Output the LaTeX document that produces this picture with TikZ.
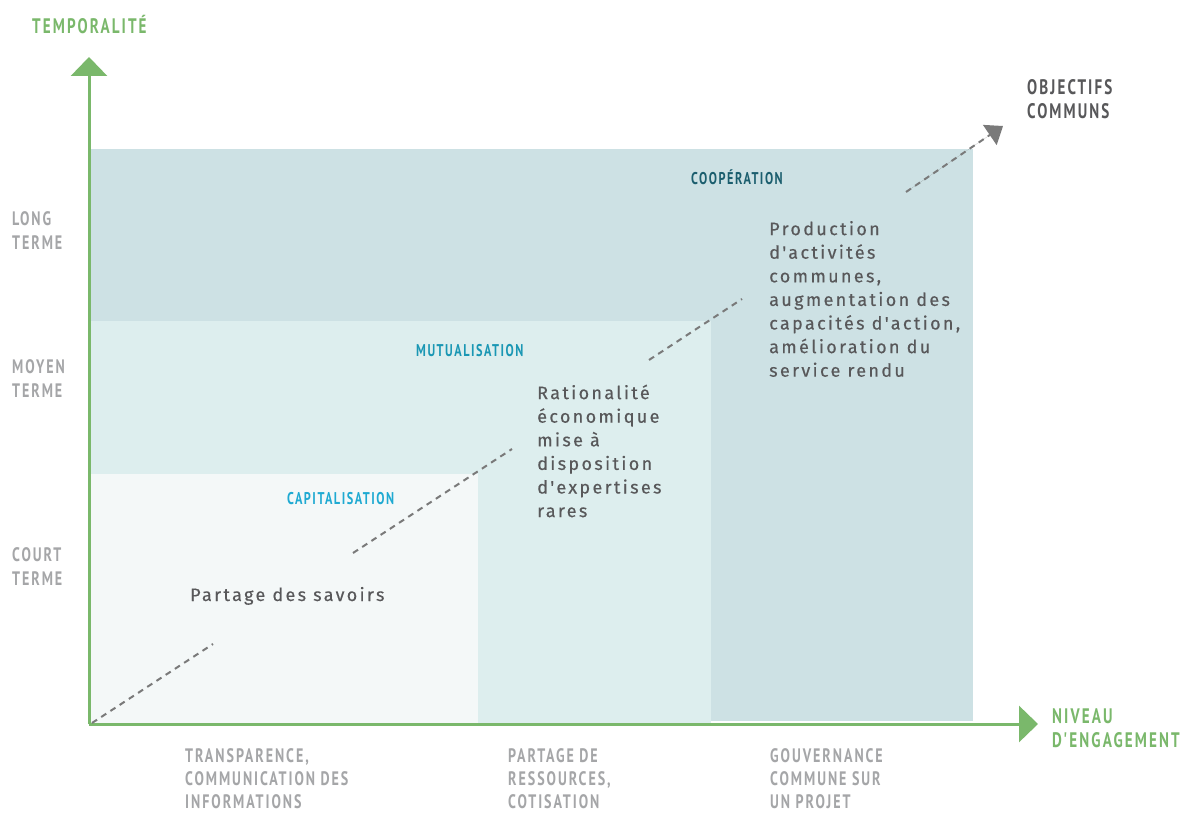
\documentclass[tikz,border=0pt]{standalone}
\usepackage{fontspec}
\usetikzlibrary{arrows.meta}
\newfontfamily\capsfont[FakeStretch=0.72,LetterSpace=10]{PT Sans}
\newfontfamily\smallcapsfont[FakeStretch=0.72,LetterSpace=9]{PT Sans}
\newfontfamily\bodyfont[LetterSpace=13,FakeBold=0.4]{Fira Sans}
\definecolor{axisgreen}{HTML}{7AB86B}
\definecolor{darkzone}{HTML}{CDE1E4}
\definecolor{midzone}{HTML}{DDEEEE}
\definecolor{lightzone}{HTML}{F4F8F8}
\definecolor{coopcol}{HTML}{1B5E6E}
\definecolor{mutucol}{HTML}{1A97B4}
\definecolor{capicol}{HTML}{1FAAD2}
\definecolor{labelgrey}{HTML}{A5A6A8}
\definecolor{bodygrey}{HTML}{58585A}
\definecolor{dashgrey}{HTML}{7A7A7A}
\tikzset{
  axisline/.style={draw=axisgreen, line width=3pt, -{Triangle[length=19pt,width=36pt]}},
  dashline/.style={draw=dashgrey, line width=2pt, dash pattern=on 6pt off 5pt},
  biglabel/.style={font=\capsfont\bfseries\fontsize{21}{24}\selectfont, inner sep=0pt, align=left},
  greylabel/.style={font=\capsfont\bfseries\fontsize{19.5}{24}\selectfont, text=labelgrey, inner sep=0pt, align=left},
  bottomlabel/.style={font=\capsfont\bfseries\fontsize{19.5}{23}\selectfont, text=labelgrey, inner sep=0pt, align=left},
  smalllabel/.style={font=\smallcapsfont\bfseries\fontsize{17}{20}\selectfont, inner sep=0pt, align=left},
  bodytext/.style={font=\bodyfont\fontsize{18}{23.6}\selectfont, text=bodygrey, inner sep=0pt, align=left},
}
\begin{document}
\begin{tikzpicture}[x=1pt,y=1pt]
\useasboundingbox (0,0) rectangle (1183,812);
\fill[white] (0,0) rectangle (1183,812);
% zones
\fill[darkzone] (91,91) rectangle (973,663);
\fill[midzone] (91,88) rectangle (711,491);
\fill[lightzone] (91,88) rectangle (478,338);
% axes
\coordinate (o) at (89,88);
\coordinate (ytip) at (89,755);
\coordinate (xtip) at (1038,88);
\draw[axisline] (o) -- (ytip);
\draw[axisline] (o) -- (xtip);
% dashed progression
\coordinate (d1a) at (92,89);
\coordinate (d1b) at (213,168);
\coordinate (d2a) at (353,259);
\coordinate (d2b) at (512,363);
\coordinate (d3a) at (649,452);
\coordinate (d3b) at (742,513);
\coordinate (d4a) at (906,620);
\coordinate (d4b) at (1003,686);
\draw[dashline] (d1a) -- (d1b);
\draw[dashline] (d2a) -- (d2b);
\draw[dashline] (d3a) -- (d3b);
\draw[dashline, -{Triangle[length=16pt,width=24pt]}, fill=dashgrey] (d4a) -- (d4b);
% axis labels
\node[biglabel, text=axisgreen, anchor=base west] (temp) at (32,778) {TEMPORALITÉ};
\node[biglabel, text=axisgreen, anchor=west] (niveau) at (1052,83.5) {NIVEAU\\D'ENGAGEMENT};
\node[biglabel, text=bodygrey, anchor=west] (obj) at (1027,713) {OBJECTIFS\\COMMUNS};
% time labels
\node[greylabel, anchor=west] (long) at (12,581) {LONG\\TERME};
\node[greylabel, anchor=west] (moyen) at (12,433) {MOYEN\\TERME};
\node[greylabel, anchor=west] (court) at (12,245.5) {COURT\\TERME};
% engagement labels
\node[bottomlabel, anchor=west] (transp) at (185,33) {TRANSPARENCE,\\COMMUNICATION DES\\INFORMATIONS};
\node[bottomlabel, anchor=west] (partres) at (508,33) {PARTAGE DE\\RESSOURCES,\\COTISATION};
\node[bottomlabel, anchor=west] (gouv) at (770,33) {GOUVERNANCE\\COMMUNE SUR\\UN PROJET};
% zone titles
\node[smalllabel, text=coopcol, anchor=base west] (coop) at (691,627) {COOPÉRATION};
\node[smalllabel, text=mutucol, anchor=base west] (mutu) at (416,455) {MUTUALISATION};
\node[smalllabel, text=capicol, anchor=base west] (capi) at (287,308) {CAPITALISATION};
% zone texts
\node[bodytext, anchor=base west] (savoirs) at (190,211) {Partage des savoirs};
\node[bodytext, anchor=west] (ratio) at (537,361) {Rationalité\\économique\\mise à\\disposition\\d'expertises\\rares};
\node[bodytext, anchor=west] (prod) at (769,513) {Production\\d'activités\\communes,\\augmentation des\\capacités d'action,\\amélioration du\\service rendu};
\end{tikzpicture}
\end{document}
